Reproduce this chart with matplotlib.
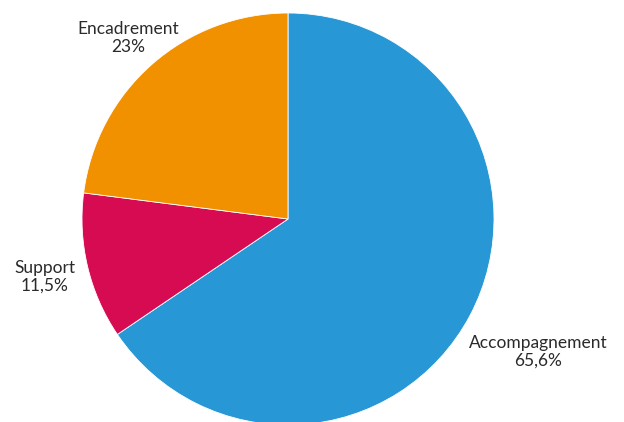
import matplotlib
matplotlib.use("Agg")
import matplotlib.pyplot as plt

categories = ["Accompagnement", "Support", "Encadrement"]
values = [65.6, 11.5, 23.0]
value_labels = ["65,6%", "11,5%", "23%"]
colors = ["#2897d6", "#d70b52", "#f29100"]

H = 422
label_pos = [(538, 352), (45, 277), (128, 38)]

plt.rcParams['font.family'] = ['Lato', 'DejaVu Sans']

fig = plt.figure(figsize=(6.24, 4.22), dpi=100)
ax = fig.add_axes([0, 0, 1, 1])

ax.pie(values, colors=colors, startangle=90, counterclock=False,
       center=(288, H - 219), radius=206, frame=True,
       wedgeprops=dict(edgecolor='white', linewidth=0.6))
ax.set_xlim(0, 624)
ax.set_ylim(0, H)
ax.set_aspect('equal')
ax.axis('off')

for cat, vl, (x, y) in zip(categories, value_labels, label_pos):
    ax.text(x, H - y, f"{cat}\n{vl}", ha='center', va='center', fontsize=12.5,
            color='#2a2a2a', linespacing=1.15)

fig.savefig("out.png", dpi=100)
